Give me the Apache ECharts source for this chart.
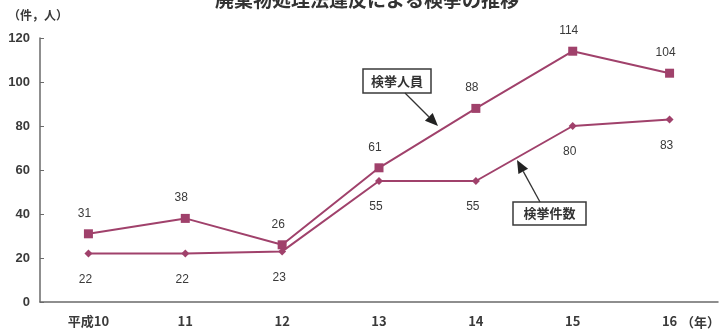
<!DOCTYPE html>
<html>
<head>
<meta charset="utf-8">
<style>
  html, body { margin: 0; padding: 0; background: #fff; }
  #chart { width: 723px; height: 331px; }
</style>
<script src="https://cdn.jsdelivr.net/npm/echarts@6/dist/echarts.min.js"></script>
</head>
<body>
<div id="chart"></div>
<script>
// 年次（平成）
const years = ['平成10', '11', '12', '13', '14', '15', '16'];
// 検挙人員（人）
const arrestedPersons = [31, 38, 26, 61, 88, 114, 104];
// 検挙件数（件）
const arrestCases = [22, 22, 23, 55, 55, 80, 83];
// 縦軸目盛
const yTicks = [0, 20, 40, 60, 80, 100, 120];

const LINE = '#a0416b';
const AXIS = '#6a6a6a';
const TEXT = '#3a3a3a';
const NUM_FONT = '"Liberation Sans", Arial, sans-serif';
const JP_FONT = '"Noto Sans CJK JP", sans-serif';

const chart = echarts.init(document.getElementById('chart'));

function labelBox(x, y, w, h, text) {
  return {
    type: 'group',
    children: [
      { type: 'rect', shape: { x: x, y: y, width: w, height: h },
        style: { fill: '#fff', stroke: '#3a3a3a', lineWidth: 1.5 }, z: 10 },
      { type: 'text', x: x + w / 2, y: y + h / 2,
        style: { text: text, fill: '#333', font: 'bold 13px ' + JP_FONT,
                 align: 'center', verticalAlign: 'middle' }, z: 11 }
    ]
  };
}

function arrow(x1, y1, x2, y2) {
  const dx = x2 - x1, dy = y2 - y1;
  const len = Math.sqrt(dx * dx + dy * dy);
  const ux = dx / len, uy = dy / len;
  const hl = 13, hw = 5.5;
  const bx = x2 - ux * hl, by = y2 - uy * hl;
  const px = -uy, py = ux;
  return {
    type: 'group',
    children: [
      { type: 'line', shape: { x1: x1, y1: y1, x2: bx, y2: by },
        style: { stroke: '#333', lineWidth: 1.3 }, z: 10 },
      { type: 'polygon',
        shape: { points: [[x2, y2], [bx + px * hw, by + py * hw], [bx - px * hw, by - py * hw]] },
        style: { fill: '#222' }, z: 10 }
    ]
  };
}

chart.setOption({
  animation: false,
  backgroundColor: '#fff',
  grid: { left: 40, right: 5, top: 38, bottom: 29 },
  xAxis: {
    type: 'category',
    data: years,
    boundaryGap: true,
    axisLine: { lineStyle: { color: AXIS, width: 1.5 } },
    axisTick: { inside: true, length: 5, lineStyle: { color: AXIS } },
    axisLabel: { margin: 13, color: TEXT, fontWeight: 'bold', fontSize: 13,
                 fontFamily: JP_FONT }
  },
  yAxis: {
    type: 'value',
    min: yTicks[0],
    max: yTicks[yTicks.length - 1],
    interval: yTicks[1] - yTicks[0],
    splitLine: { show: false },
    axisLine: { show: true, lineStyle: { color: AXIS, width: 1.5 } },
    axisTick: { show: true, inside: true, length: 4, lineStyle: { color: AXIS } },
    axisLabel: { margin: 10, color: TEXT, fontWeight: 'bold', fontSize: 13,
                 fontFamily: NUM_FONT }
  },
  series: [
    {
      name: '検挙人員',
      type: 'line',
      data: arrestedPersons,
      symbol: 'rect',
      symbolSize: 9,
      lineStyle: { color: LINE, width: 2 },
      itemStyle: { color: LINE },
      label: { show: true, position: 'top', distance: 10, color: TEXT,
               fontSize: 12, fontFamily: NUM_FONT, offset: [-4, 0] }
    },
    {
      name: '検挙件数',
      type: 'line',
      data: arrestCases,
      symbol: 'diamond',
      symbolSize: 8,
      lineStyle: { color: LINE, width: 2 },
      itemStyle: { color: LINE },
      label: { show: true, position: 'bottom', distance: 16, color: TEXT,
               fontSize: 12, fontFamily: NUM_FONT, offset: [-3, 0] }
    }
  ],
  graphic: [
    { type: 'text', x: 367, y: 9,
      style: { text: '廃棄物処理法違反による検挙の推移', fill: '#333',
               font: 'bold 19px ' + JP_FONT, align: 'center', verticalAlign: 'bottom' } },
    { type: 'text', x: 8, y: 15,
      style: { text: '（件，人）', fill: TEXT, font: 'bold 12px ' + JP_FONT,
               align: 'left', verticalAlign: 'middle' } },
    { type: 'text', x: 720, y: 322,
      style: { text: '（年）', fill: TEXT, font: 'bold 13px ' + JP_FONT,
               align: 'right', verticalAlign: 'middle' } },
    labelBox(363, 69, 68, 24, '検挙人員'),
    arrow(405, 93, 438, 126),
    labelBox(513, 202, 73, 23, '検挙件数'),
    arrow(540, 202, 517, 160)
  ]
});
</script>
</body>
</html>
